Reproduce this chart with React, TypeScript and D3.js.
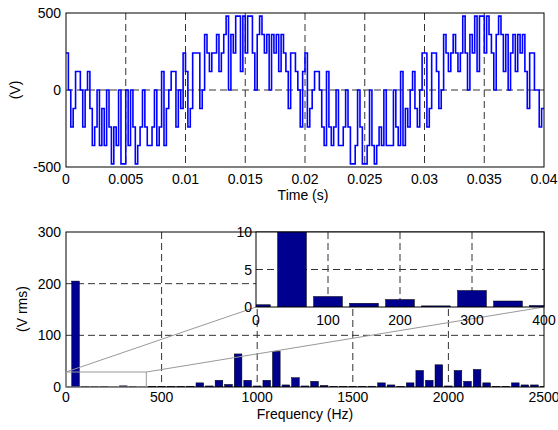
import React from "react";
import * as d3 from "d3";

// Inverter output voltage, sampled every 0.2 ms (V), one array per half period
const SAMPLE_PERIOD = 0.0002;
const halfCycleA = [
  240, 0, -240, -120, 120, 120, 0, -240, 0, 120,
  -120, -360, -240, 0, -360, -120, -360, 0, -240, -480,
  -240, -360, 0, -480, -480, 0, -360, 0, -240, -480,
  -360, -240, 0, -240, -360, -360, -240, 0, -360, -240,
  120, -360, -120, 0, 120, 120, -240, 0, -120, 240,
];
const halfCycleB = [
  120, -240, -120, 240, 240, 240, -120, 0, 360, 240,
  120, 240, 240, 360, 120, 240, 360, 480, 0, 360,
  240, 480, 480, 120, 480, 240, 480, 480, 240, 0,
  360, 480, 360, 240, 360, 0, 360, 240, 360, 120,
  360, 240, 120, -120, 240, 240, 120, 0, -240, 120,
];
const halfCycleC = [
  240, -240, -120, 0, 120, 120, 0, -240, -360, 120,
  -240, -360, -240, 0, -360, -360, -240, 0, -240, -480,
  -480, -360, 0, -240, -480, -480, -360, 0, -360, -480,
  -360, -240, -360, 0, -360, -360, -360, 0, -240, -360,
  120, -360, -120, -240, 0, 120, -120, -240, 0, 240,
];
const halfCycleD = [
  240, -240, -120, 240, 240, 120, -120, 0, 360, 240,
  120, 240, 360, 240, 120, 240, 480, 240, 0, 360,
  240, 480, 120, 480, 480, 240, 480, 360, 240, 0,
  360, 480, 360, 120, 360, 0, 240, 360, 120, 360,
  240, 360, 120, -120, 240, 240, 0, 0, -240, -120,
];

const timeTicks = [0, 0.005, 0.01, 0.015, 0.02, 0.025, 0.03, 0.035, 0.04];
const timeTickLabels = ["0", "0.005", "0.01", "0.015", "0.02", "0.025", "0.03", "0.035", "0.04"];
const voltTicks = [-500, 0, 500];

// Harmonic spectrum (V rms) at 50 Hz spacing
const freqBins = [
  0, 50, 100, 150, 200, 250, 300, 350, 400, 450,
  500, 550, 600, 650, 700, 750, 800, 850, 900, 950,
  1000, 1050, 1100, 1150, 1200, 1250, 1300, 1350, 1400, 1450,
  1500, 1550, 1600, 1650, 1700, 1750, 1800, 1850, 1900, 1950,
  2000, 2050, 2100, 2150, 2200, 2250, 2300, 2350, 2400, 2450, 2500,
];
const spectrumRms = [
  0.3, 205, 1.4, 0.5, 1.0, 0.15, 2.2, 0.8, 0.2, 1.0,
  1.2, 0.8, 1.0, 1.5, 8, 2, 13, 5, 64, 13,
  2, 13, 69, 4, 18, 2, 11, 3, 1, 1,
  1, 1, 1.5, 8, 4, 1, 8, 32, 13, 43,
  2, 32, 11, 34, 8, 1, 1, 8, 4, 4, 0.5,
];
const freqTicks = [0, 500, 1000, 1500, 2000, 2500];
const rmsTicks = [0, 100, 200, 300];
const zoomFreqTicks = [0, 100, 200, 300, 400];
const zoomRmsTicks = [0, 5, 10];
const zoomWindow = { f0: 0, f1: 420, v0: 0, v1: 29 };

const BAR_HALF = 20;
const FONT = "'Liberation Sans', Arial, Helvetica, sans-serif";
const DASH = "7,4";
const GRID = "#333";
const BAR_FILL = "#00008F";

export default function App() {
  const W = 558;
  const H = 430;

  // Time-domain panel
  const tx = d3.scaleLinear().domain([0, 0.04]).range([66, 544]);
  const ty = d3.scaleLinear().domain([-500, 500]).range([167, 13]);
  const samples = [...halfCycleA, ...halfCycleB, ...halfCycleC, ...halfCycleD];
  const wavePts: [number, number][] = samples.map((v, i) => [i * SAMPLE_PERIOD, v]);
  wavePts.push([samples.length * SAMPLE_PERIOD, samples[samples.length - 1]]);
  const waveLine = d3
    .line<[number, number]>()
    .x((d) => tx(d[0]))
    .y((d) => ty(d[1]))
    .curve(d3.curveStepAfter);

  // Spectrum panel
  const fx = d3.scaleLinear().domain([0, 2500]).range([66, 544]);
  const fy = d3.scaleLinear().domain([0, 300]).range([387, 232]);

  // Zoomed inset
  const ix = d3.scaleLinear().domain([0, 400]).range([256, 544]);
  const iy = d3.scaleLinear().domain([0, 10]).range([307, 232]);

  const [tx0, tx1] = tx.range();
  const [ty0, ty1] = [ty(500), ty(-500)];
  const [fx0, fx1] = fx.range();
  const [fyTop, fyBot] = [fy(300), fy(0)];
  const [ix0, ix1] = ix.range();
  const [iyTop, iyBot] = [iy(10), iy(0)];

  const txt = { fontFamily: FONT, fontSize: 14, fill: "#000" } as const;

  return (
    <svg
      width={W}
      height={H}
      viewBox={`0 0 ${W} ${H}`}
      style={{ position: "absolute", left: 0, top: 0, background: "#fff" }}
    >
      <defs>
        <clipPath id="specClip">
          <rect x={fx0} y={fyTop} width={fx1 - fx0} height={fyBot - fyTop} />
        </clipPath>
        <clipPath id="insetClip">
          <rect x={ix0} y={iyTop} width={ix1 - ix0} height={iyBot - iyTop} />
        </clipPath>
      </defs>
      <rect x={0} y={0} width={W} height={H} fill="#fff" />

      {/* ---------- time-domain panel ---------- */}
      <g>
        {timeTicks.slice(1, -1).map((t) => (
          <line key={t} x1={tx(t)} x2={tx(t)} y1={ty0} y2={ty1} stroke={GRID} strokeDasharray={DASH} />
        ))}
        <line x1={tx0} x2={tx1} y1={ty(0)} y2={ty(0)} stroke={GRID} strokeDasharray={DASH} />
        <path d={waveLine(wavePts) || ""} fill="none" stroke="#0000ff" strokeWidth={1.6} />
        <rect x={tx0} y={ty0} width={tx1 - tx0} height={ty1 - ty0} fill="none" stroke="#000" />
        {timeTicks.map((t, i) => (
          <text key={t} x={tx(t)} y={184} textAnchor="middle" {...txt}>
            {timeTickLabels[i]}
          </text>
        ))}
        {voltTicks.map((v) => (
          <text key={v} x={61} y={ty(v) + 5} textAnchor="end" {...txt}>
            {v}
          </text>
        ))}
        <text x={303} y={200} textAnchor="middle" {...txt}>
          Time (s)
        </text>
        <text transform={`translate(20,${ty(0)}) rotate(-90)`} textAnchor="middle" {...txt}>
          (V)
        </text>
      </g>

      {/* ---------- spectrum panel ---------- */}
      <g>
        {freqTicks.slice(1, -1).map((f) => (
          <line key={f} x1={fx(f)} x2={fx(f)} y1={fyTop} y2={fyBot} stroke={GRID} strokeDasharray={DASH} />
        ))}
        {rmsTicks.slice(1, -1).map((v) => (
          <line key={v} x1={fx0} x2={fx1} y1={fy(v)} y2={fy(v)} stroke={GRID} strokeDasharray={DASH} />
        ))}
        <g clipPath="url(#specClip)">
          {freqBins.map((f, i) => (
            <rect
              key={f}
              x={fx(f - BAR_HALF)}
              y={fy(spectrumRms[i])}
              width={fx(f + BAR_HALF) - fx(f - BAR_HALF)}
              height={fy(0) - fy(spectrumRms[i])}
              fill={BAR_FILL}
              stroke="#000"
              strokeWidth={0.5}
            />
          ))}
        </g>
        <rect x={fx0} y={fyTop} width={fx1 - fx0} height={fyBot - fyTop} fill="none" stroke="#000" />
        {/* zoom window and its connectors to the inset */}
        <rect
          x={fx(zoomWindow.f0)}
          y={fy(zoomWindow.v1)}
          width={fx(zoomWindow.f1) - fx(zoomWindow.f0)}
          height={fy(zoomWindow.v0) - fy(zoomWindow.v1)}
          fill="none"
          stroke="#999"
        />
        <line x1={fx(zoomWindow.f0)} y1={fy(zoomWindow.v1)} x2={ix0} y2={iyBot} stroke="#999" />
        <line x1={fx(zoomWindow.f1)} y1={fy(zoomWindow.v1)} x2={ix1} y2={iyBot} stroke="#999" />

        {freqTicks.map((f) => (
          <text key={f} x={fx(f)} y={402} textAnchor="middle" {...txt}>
            {f}
          </text>
        ))}
        {rmsTicks.map((v) => (
          <text key={v} x={61} y={fy(v) + 5} textAnchor="end" {...txt}>
            {v}
          </text>
        ))}
        <text x={305} y={419} textAnchor="middle" {...txt}>
          Frequency (Hz)
        </text>
        <text transform={`translate(27,309) rotate(-90)`} textAnchor="middle" {...txt}>
          (V rms)
        </text>
      </g>

      {/* ---------- inset ---------- */}
      <g>
        <rect x={ix0} y={iyTop} width={ix1 - ix0} height={iyBot - iyTop} fill="#fff" />
        {zoomFreqTicks.slice(1, -1).map((f) => (
          <line key={f} x1={ix(f)} x2={ix(f)} y1={iyTop} y2={iyBot} stroke={GRID} strokeDasharray={DASH} />
        ))}
        {zoomRmsTicks.slice(1, -1).map((v) => (
          <line key={v} x1={ix0} x2={ix1} y1={iy(v)} y2={iy(v)} stroke={GRID} strokeDasharray={DASH} />
        ))}
        <g clipPath="url(#insetClip)">
          {freqBins.map((f, i) => (
            <rect
              key={f}
              x={ix(f - BAR_HALF)}
              y={iy(Math.min(spectrumRms[i], 11))}
              width={ix(f + BAR_HALF) - ix(f - BAR_HALF)}
              height={iy(0) - iy(Math.min(spectrumRms[i], 11))}
              fill={BAR_FILL}
              stroke="#000"
              strokeWidth={0.5}
            />
          ))}
        </g>
        <rect x={ix0} y={iyTop} width={ix1 - ix0} height={iyBot - iyTop} fill="none" stroke="#000" />
        {zoomFreqTicks.map((f) => (
          <text key={f} x={ix(f)} y={325} textAnchor="middle" {...txt}>
            {f}
          </text>
        ))}
        {zoomRmsTicks.map((v) => (
          <text key={v} x={252} y={iy(v) + 5} textAnchor="end" {...txt}>
            {v}
          </text>
        ))}
      </g>
    </svg>
  );
}
